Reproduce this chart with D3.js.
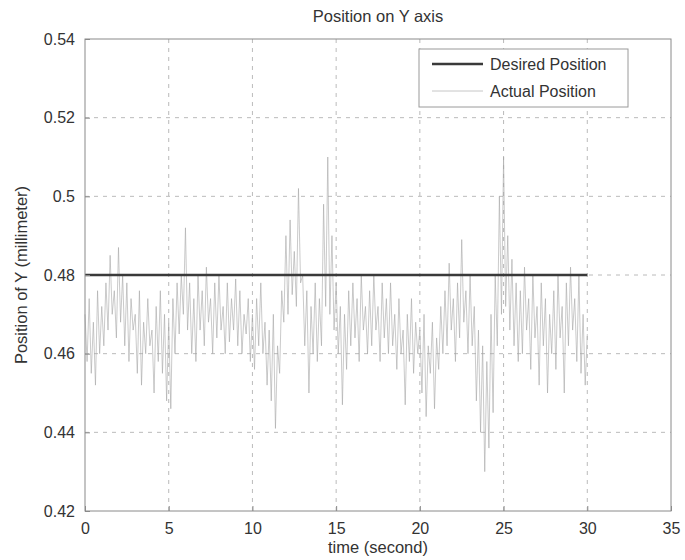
<!DOCTYPE html>
<html>
<head>
<meta charset="utf-8">
<script src="https://cdn.jsdelivr.net/npm/d3@7"></script>
<style>
  html, body { margin: 0; padding: 0; background: #ffffff; }
  svg { display: block; }
  text { font-family: "Liberation Sans", Arial, sans-serif; fill: #333; }
</style>
</head>
<body>
<svg id="chart" width="685" height="560"></svg>
<script>
// ---- data ----
const titleText = "Position on Y axis";
const xLabelText = "time (second)";
const yLabelText = "Position of Y (millimeter)";
const xTicks = [0, 5, 10, 15, 20, 25, 30, 35];
const yTicks = [0.42, 0.44, 0.46, 0.48, 0.5, 0.52, 0.54];
const yTickLabels = ["0.42", "0.44", "0.46", "0.48", "0.5", "0.52", "0.54"];
const seriesNames = ["Desired Position", "Actual Position"];

const desiredTime = [0, 30];
const desiredValue = [0.48, 0.48];

const actualStep = 0.125; // seconds between samples
const actualValue = [
  0.470,0.458,0.474,0.455,0.468,0.452,0.476,0.460,
  0.472,0.462,0.478,0.466,0.485,0.470,0.476,0.464,
  0.487,0.468,0.480,0.462,0.478,0.458,0.474,0.466,
  0.470,0.455,0.476,0.452,0.468,0.460,0.474,0.462,
  0.466,0.450,0.472,0.458,0.476,0.455,0.470,0.448,
  0.468,0.446,0.474,0.460,0.478,0.465,0.480,0.470,
  0.492,0.466,0.478,0.460,0.474,0.458,0.480,0.466,
  0.476,0.462,0.482,0.468,0.474,0.460,0.478,0.464,
  0.480,0.466,0.472,0.460,0.478,0.463,0.474,0.466,
  0.479,0.462,0.476,0.460,0.470,0.465,0.474,0.458,
  0.470,0.456,0.474,0.462,0.478,0.460,0.468,0.452,
  0.466,0.448,0.470,0.441,0.462,0.455,0.476,0.468,
  0.490,0.470,0.494,0.475,0.486,0.472,0.502,0.478,
  0.480,0.462,0.476,0.450,0.472,0.460,0.478,0.458,
  0.474,0.462,0.498,0.472,0.510,0.470,0.490,0.466,
  0.478,0.460,0.472,0.447,0.470,0.456,0.476,0.462,
  0.478,0.464,0.474,0.458,0.480,0.466,0.472,0.460,
  0.476,0.462,0.480,0.466,0.472,0.458,0.478,0.464,
  0.474,0.460,0.478,0.462,0.470,0.456,0.474,0.460,
  0.466,0.447,0.470,0.458,0.474,0.455,0.468,0.460,
  0.466,0.450,0.470,0.444,0.462,0.455,0.468,0.446,
  0.464,0.456,0.472,0.460,0.476,0.462,0.483,0.466,
  0.474,0.458,0.478,0.464,0.489,0.468,0.476,0.460,
  0.480,0.462,0.472,0.448,0.466,0.440,0.462,0.430,
  0.458,0.436,0.470,0.445,0.480,0.462,0.500,0.470,
  0.510,0.472,0.490,0.466,0.484,0.462,0.478,0.458,
  0.476,0.460,0.482,0.466,0.474,0.456,0.480,0.464,
  0.472,0.452,0.478,0.462,0.474,0.450,0.470,0.460,
  0.476,0.456,0.480,0.464,0.472,0.450,0.478,0.462,
  0.482,0.466,0.474,0.458,0.480,0.455,0.470,0.452,
  0.465
];

// ---- layout ----
const svg = d3.select("#chart");
const mLeft = 85, mRight = 671, mTop = 39, mBottom = 511;
const x = d3.scaleLinear().domain([0, 35]).range([mLeft, mRight]);
const y = d3.scaleLinear().domain([0.42, 0.54]).range([mBottom, mTop]);

// plot background
svg.append("rect").attr("x", mLeft).attr("y", mTop)
  .attr("width", mRight - mLeft).attr("height", mBottom - mTop)
  .attr("fill", "#ffffff");

// grid
const grid = svg.append("g");
grid.selectAll(".gx").data(xTicks.slice(1, -1)).join("line")
  .attr("x1", d => x(d)).attr("x2", d => x(d))
  .attr("y1", mTop).attr("y2", mBottom)
  .attr("stroke", "#a8a8a8").attr("stroke-width", 0.8)
  .attr("stroke-dasharray", "4,5");
grid.selectAll(".gy").data(yTicks.slice(1, -1)).join("line")
  .attr("y1", d => y(d)).attr("y2", d => y(d))
  .attr("x1", mLeft).attr("x2", mRight)
  .attr("stroke", "#a8a8a8").attr("stroke-width", 0.8)
  .attr("stroke-dasharray", "4,5");

// actual series
const actualData = actualValue.map((v, i) => ({ t: i * actualStep, v }));
const line = d3.line().x(d => x(d.t)).y(d => y(d.v));
svg.append("path").datum(actualData)
  .attr("d", line)
  .attr("fill", "none").attr("stroke", "#a6a6a6").attr("stroke-width", 0.6);

// desired series
const desiredData = desiredTime.map((t, i) => ({ t, v: desiredValue[i] }));
svg.append("path").datum(desiredData)
  .attr("d", line)
  .attr("fill", "none").attr("stroke", "#3a3a3a").attr("stroke-width", 2.6);

// axes box
svg.append("rect").attr("x", mLeft).attr("y", mTop)
  .attr("width", mRight - mLeft).attr("height", mBottom - mTop)
  .attr("fill", "none").attr("stroke", "#8a8a8a").attr("stroke-width", 1);

// axes with inward ticks
const xAxis = d3.axisBottom(x).tickValues(xTicks).tickSize(-5).tickPadding(12)
  .tickFormat(d3.format("d"));
const gx = svg.append("g").attr("transform", `translate(0,${mBottom})`).call(xAxis);
gx.select(".domain").remove();
gx.selectAll(".tick line").attr("stroke", "#8a8a8a");
gx.selectAll(".tick text").attr("font-size", 16).attr("fill", "#333")
  .attr("font-family", "Liberation Sans, Arial, sans-serif");

const yAxis = d3.axisLeft(y).tickValues(yTicks).tickSize(-5).tickPadding(10)
  .tickFormat((d, i) => yTickLabels[i]);
const gy = svg.append("g").attr("transform", `translate(${mLeft},0)`).call(yAxis);
gy.select(".domain").remove();
gy.selectAll(".tick line").attr("stroke", "#8a8a8a");
gy.selectAll(".tick text").attr("font-size", 16).attr("fill", "#333")
  .attr("font-family", "Liberation Sans, Arial, sans-serif");

// title and labels
svg.append("text").attr("x", (mLeft + mRight) / 2).attr("y", 22)
  .attr("text-anchor", "middle").attr("font-size", 16.5).text(titleText);
svg.append("text").attr("x", (mLeft + mRight) / 2).attr("y", 553)
  .attr("text-anchor", "middle").attr("font-size", 16.5).text(xLabelText);
svg.append("text")
  .attr("transform", `translate(27,${(mTop + mBottom) / 2}) rotate(-90)`)
  .attr("text-anchor", "middle").attr("font-size", 16.5).text(yLabelText);

// legend
const lg = svg.append("g");
lg.append("rect").attr("x", 419).attr("y", 49).attr("width", 209).attr("height", 58)
  .attr("fill", "#ffffff").attr("stroke", "#9a9a9a").attr("stroke-width", 1);
const legendStyles = [
  { stroke: "#3a3a3a", width: 2.6 },
  { stroke: "#b8b8b8", width: 0.8 }
];
seriesNames.forEach((name, i) => {
  const cy = 64 + i * 27;
  lg.append("line").attr("x1", 432).attr("x2", 483).attr("y1", cy).attr("y2", cy)
    .attr("stroke", legendStyles[i].stroke).attr("stroke-width", legendStyles[i].width);
  lg.append("text").attr("x", 490).attr("y", cy + 6).attr("font-size", 16).text(name);
});
</script>
</body>
</html>
